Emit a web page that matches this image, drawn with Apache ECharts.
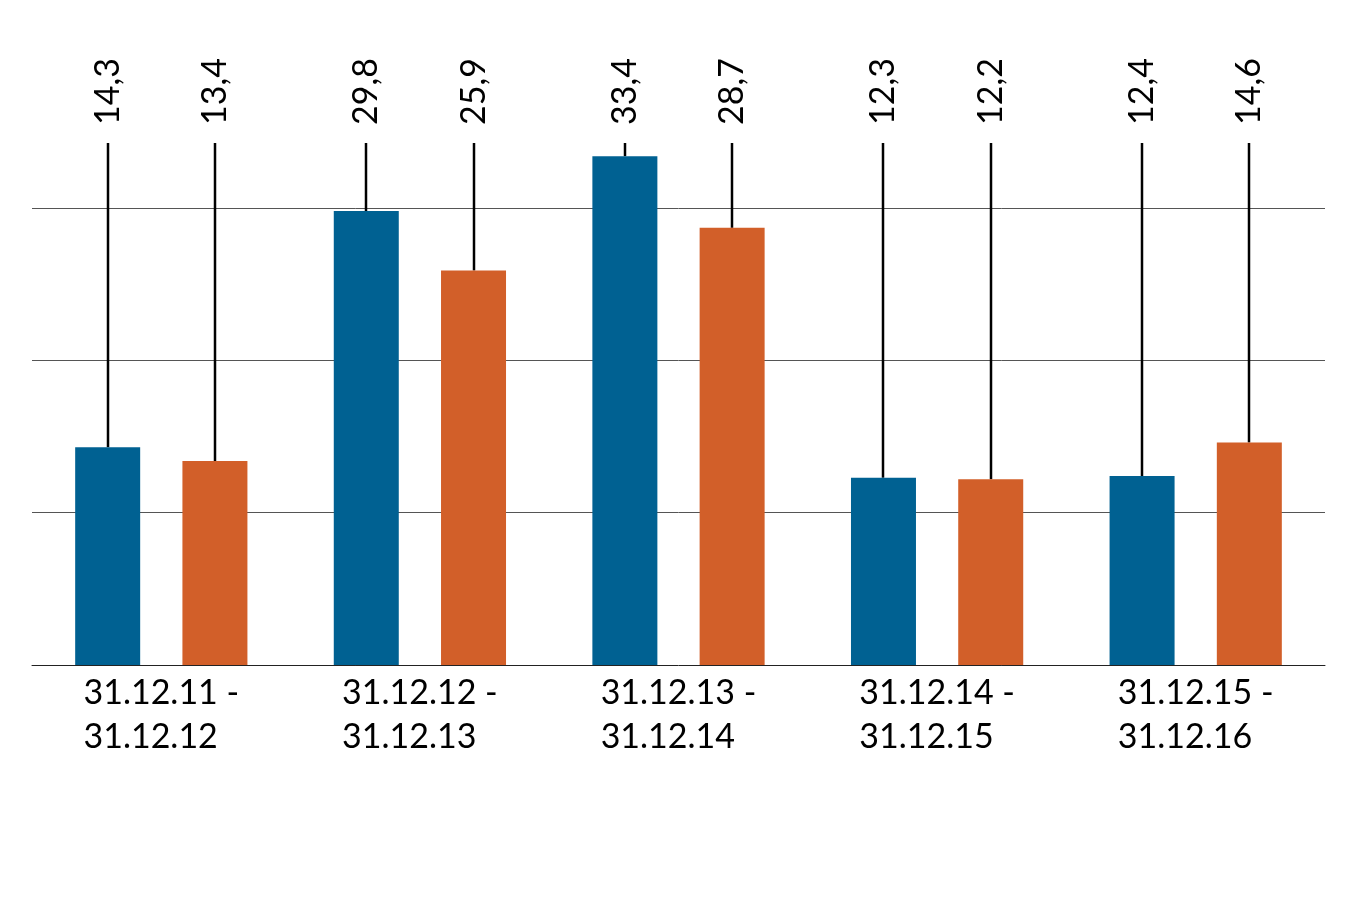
<!DOCTYPE html>
<html>
<head>
<meta charset="utf-8">
<script src="https://cdn.jsdelivr.net/npm/echarts@6/dist/echarts.min.js"></script>
<style>
html,body{margin:0;padding:0;background:#fff;}
#chart{width:1350px;height:900px;}
</style>
</head>
<body>
<div id="chart"></div>
<script>
const categories = [
  ['31.12.11 -', '31.12.12'],
  ['31.12.12 -', '31.12.13'],
  ['31.12.13 -', '31.12.14'],
  ['31.12.14 -', '31.12.15'],
  ['31.12.15 -', '31.12.16']
];
const seriesBlue = [14.3, 29.8, 33.4, 12.3, 12.4];
const seriesOrange = [13.4, 25.9, 28.7, 12.2, 14.6];

const FONT = 'Lato';
const BLUE = '#006192';
const ORANGE = '#D25F29';
const BAR_W = 65;
const HALF_STEP = 53.7;

function fmt(v){ return v.toFixed(1).replace('.', ','); }

function stemRenderer(offset){
  return function(params, api){
    const c = api.coord([api.value(0), api.value(1)]);
    const top = params.coordSys.y;
    const x = Math.round(c[0] + offset);
    return {
      type: 'group',
      children: [
        {
          type: 'line',
          shape: {x1: x, y1: top, x2: x, y2: c[1]},
          style: {stroke: '#000', lineWidth: 2.5}
        },
        {
          type: 'text',
          x: x,
          y: top - 18,
          rotation: Math.PI / 2,
          style: {
            text: fmt(api.value(1)),
            fill: '#000',
            font: '34px ' + FONT,
            textAlign: 'left',
            textVerticalAlign: 'middle'
          }
        }
      ]
    };
  };
}

const chart = echarts.init(document.getElementById('chart'), null, {renderer: 'canvas'});
chart.setOption({
  animation: false,
  backgroundColor: '#fff',
  grid: {left: 32, right: 25, top: 143, bottom: 235, containLabel: false},
  xAxis: {
    type: 'category',
    data: categories.map(c => c.join('\n')),
    axisLine: {show: true, lineStyle: {color: '#222', width: 1}},
    axisTick: {show: false},
    axisLabel: {
      margin: 6,
      interval: 0,
      formatter: function(v){ return v.split('\n').map(s => '{a|' + s + '}').join('\n'); },
      rich: {a: {align: 'left', fontSize: 34, fontFamily: FONT, color: '#000', lineHeight: 44}}
    }
  },
  yAxis: {
    type: 'value',
    min: 0,
    max: 34.27,
    interval: 10,
    axisLine: {show: false},
    axisTick: {show: false},
    axisLabel: {show: false},
    splitLine: {show: true, showMinLine: false, showMaxLine: false, lineStyle: {color: '#555', width: 1}}
  },
  series: [
    {
      type: 'bar', data: seriesBlue, barWidth: BAR_W, barGap: '65%',
      itemStyle: {color: BLUE}, z: 3
    },
    {
      type: 'bar', data: seriesOrange, barWidth: BAR_W, barGap: '65%',
      itemStyle: {color: ORANGE}, z: 3
    },
    {
      type: 'custom', renderItem: stemRenderer(-HALF_STEP),
      data: seriesBlue.map((v, i) => [i, v]), z: 2, silent: true
    },
    {
      type: 'custom', renderItem: stemRenderer(HALF_STEP),
      data: seriesOrange.map((v, i) => [i, v]), z: 2, silent: true
    }
  ]
});
</script>
</body>
</html>
